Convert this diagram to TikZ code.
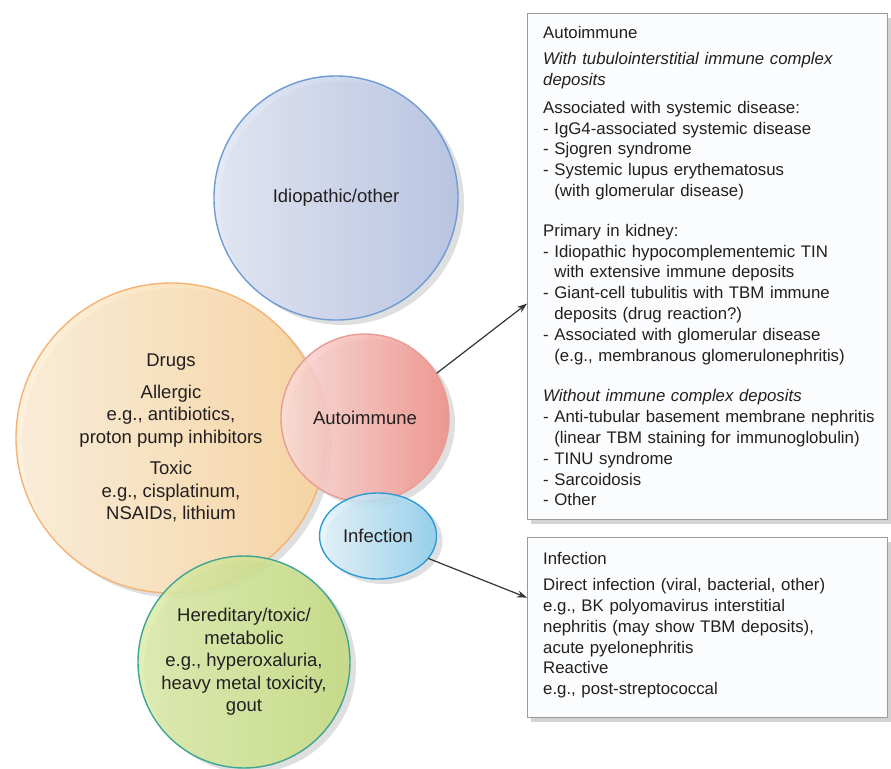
\documentclass[tikz,border=0pt]{standalone}
\usepackage{fontspec}
\setmainfont{Liberation Sans}
\usetikzlibrary{shapes.geometric,shadows,arrows.meta}

\definecolor{idioL}{HTML}{E1E6F4}
\definecolor{idioR}{HTML}{B3C0E2}
\definecolor{idioB}{HTML}{6F9BD3}
\definecolor{drugL}{HTML}{FDEFD8}
\definecolor{drugR}{HTML}{F9D29A}
\definecolor{drugB}{HTML}{F4B274}
\definecolor{autoL}{HTML}{FBDDD9}
\definecolor{autoR}{HTML}{F08C84}
\definecolor{autoB}{HTML}{E99C95}
\definecolor{infL}{HTML}{E4F3FB}
\definecolor{infR}{HTML}{8CCDEC}
\definecolor{infB}{HTML}{2E9BD6}
\definecolor{herL}{HTML}{DDEBAA}
\definecolor{herR}{HTML}{C2DA7E}
\definecolor{herB}{HTML}{3FA593}
\definecolor{boxB}{HTML}{9A9A9A}
\definecolor{boxF}{HTML}{FBFCFD}
\definecolor{inkC}{HTML}{231F20}

\tikzset{
  bubble/.style={circle, line width=1.4pt, inner sep=0pt, align=center,
    fill opacity=0.86, text opacity=1, text=inkC,
    font=\fontsize{18.5}{22.5}\selectfont,
    drop shadow={opacity=0.25, shadow xshift=6pt, shadow yshift=-5pt}},
  infobox/.style={rectangle, draw=boxB, fill=boxF, line width=1.3pt,
    inner sep=0pt, anchor=north west,
    drop shadow={opacity=0.35, shadow xshift=3pt, shadow yshift=-4pt}},
  boxtext/.style={inner sep=0pt, anchor=north west, align=left, text=inkC,
    text width=345, font=\fontsize{16.8}{20.8}\selectfont},
  conn/.style={draw=black!80, line width=1.2pt,
    -{Stealth[length=10pt,width=7pt]}}
}

\begin{document}
\begin{tikzpicture}[x=1pt, y=-1pt, line cap=round, line join=round]

\useasboundingbox (0,0) rectangle (891,768);

% -----------------------
% Causes (overlapping bubbles)
% -----------------------
\node[bubble, draw=idioB, left color=idioL, right color=idioR,
  minimum size=244] (idio) at (336,198) {Idiopathic/other};

\node[bubble, draw=drugB, left color=drugL, right color=drugR,
  minimum size=310] (drugs) at (171,438)
  {Drugs\\[9pt]
   Allergic\\
   e.g., antibiotics,\\
   proton pump inhibitors\\[9pt]
   Toxic\\
   e.g., cisplatinum,\\
   NSAIDs, lithium};

\node[bubble, draw=autoB, left color=autoL, right color=autoR,
  minimum size=168] (auto) at (365,418) {Autoimmune};

\node[bubble, ellipse, draw=infB, left color=infL, right color=infR,
  minimum width=117, minimum height=86] (infect) at (378,536) {Infection};

\node[bubble, draw=herB, left color=herL, right color=herR,
  minimum size=212] (hered) at (244,662)
  {Hereditary/toxic/\\
   metabolic\\
   e.g., hyperoxaluria,\\
   heavy metal toxicity,\\
   gout};

% -----------------------
% Detail boxes
% -----------------------
\node[infobox, minimum width=360, minimum height=506] (autobox) at (527,13) {};
\node[boxtext] (autotext) at (543,26.5)
  {Autoimmune\\[5pt]
   \textit{With tubulointerstitial immune complex}\\
   \textit{deposits}\\[7pt]
   Associated with systemic disease:\\
   - IgG4-associated systemic disease\\
   - Sjogren syndrome\\
   - Systemic lupus erythematosus\\
   \hphantom{- }(with glomerular disease)\\[19pt]
   Primary in kidney:\\
   - Idiopathic hypocomplementemic TIN\\
   \hphantom{- }with extensive immune deposits\\
   - Giant-cell tubulitis with TBM immune\\
   \hphantom{- }deposits (drug reaction?)\\
   - Associated with glomerular disease\\
   \hphantom{- }(e.g., membranous glomerulonephritis)\\[20pt]
   \textit{Without immune complex deposits}\\
   - Anti-tubular basement membrane nephritis\\
   \hphantom{- }(linear TBM staining for immunoglobulin)\\
   - TINU syndrome\\
   - Sarcoidosis\\
   - Other};

\node[infobox, minimum width=360, minimum height=180] (infbox) at (527,537) {};
\node[boxtext] (inftext) at (543,552.5)
  {Infection\\[5pt]
   Direct infection (viral, bacterial, other)\\
   e.g., BK polyomavirus interstitial\\
   nephritis (may show TBM deposits),\\
   acute pyelonephritis\\
   Reactive\\
   e.g., post-streptococcal};

% -----------------------
% Connectors
% -----------------------
\draw[conn] (auto.32) -- ([yshift=-37pt]autobox.west);
\draw[conn] (infect.-24) -- ([yshift=30pt]infbox.west);

\end{tikzpicture}
\end{document}
